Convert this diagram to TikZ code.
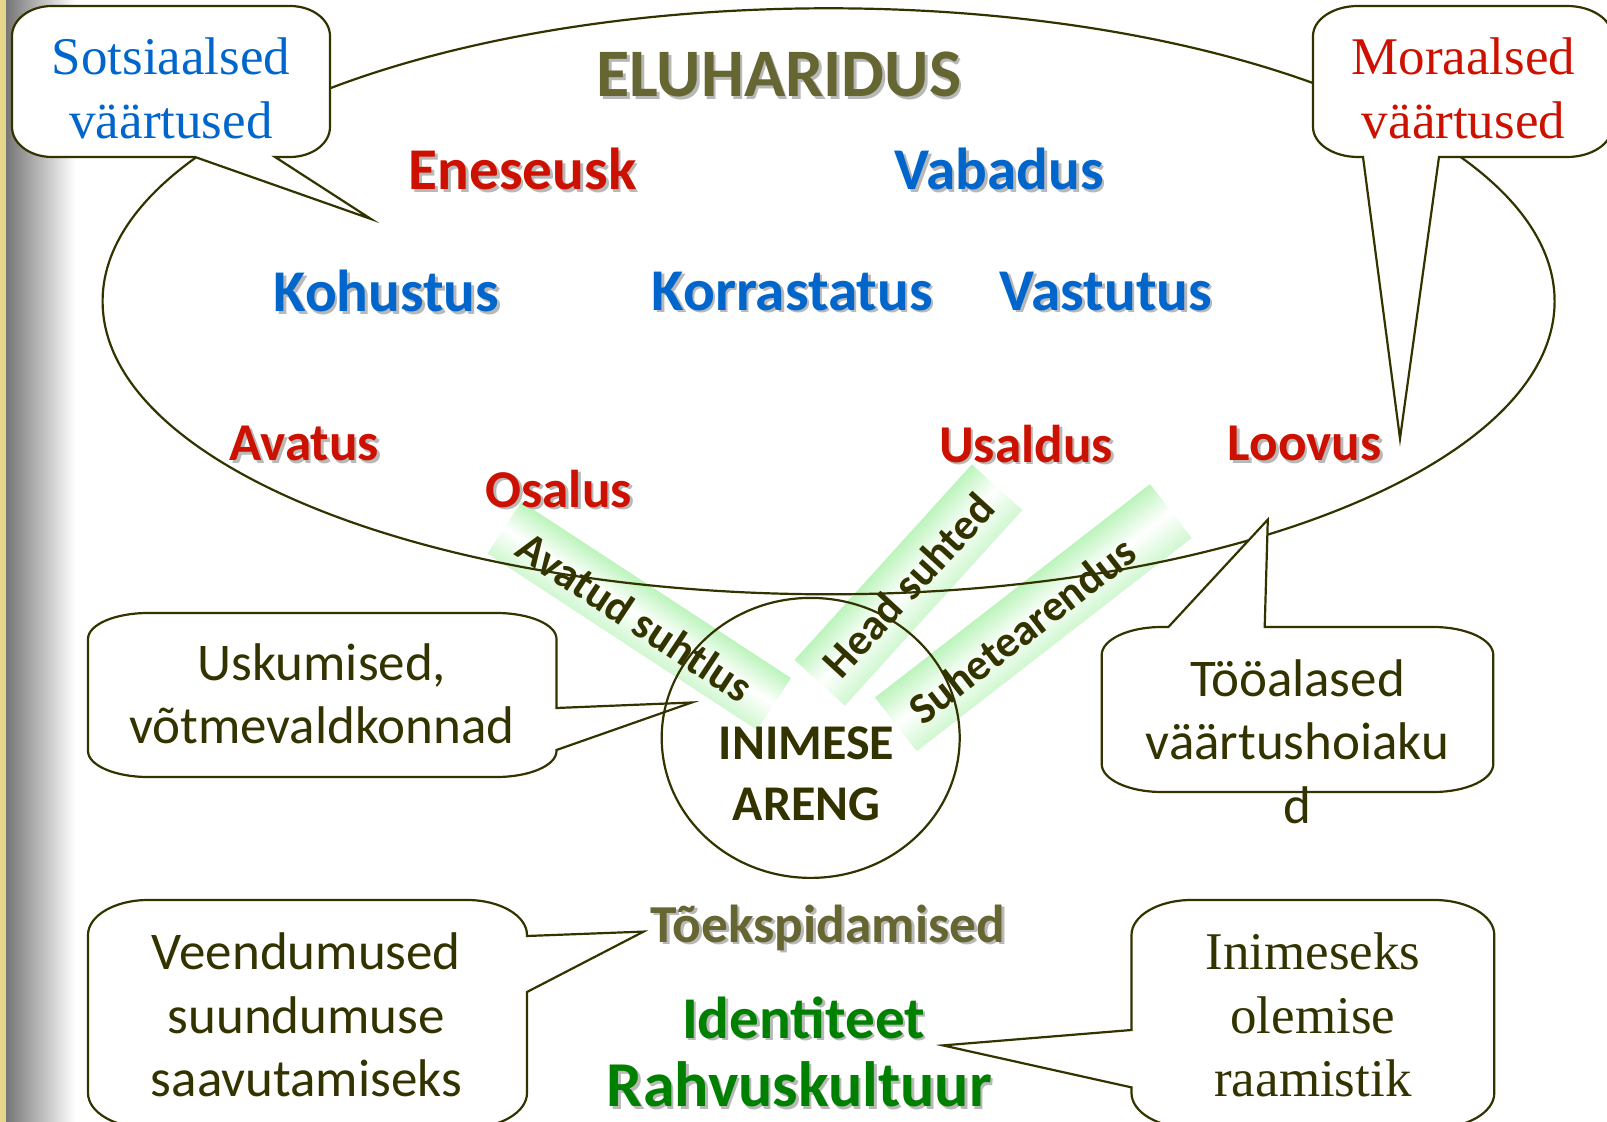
\documentclass[tikz,border=0pt]{standalone}
\usepackage{fontspec}
\setmainfont{Liberation Serif}
\newfontfamily\cali{Carlito}
\definecolor{olv}{RGB}{102,102,51}
\definecolor{redv}{RGB}{204,17,0}
\definecolor{bluev}{RGB}{0,102,204}
\definecolor{greenv}{RGB}{0,128,0}
\definecolor{dk}{RGB}{51,51,0}
\definecolor{bandg}{RGB}{188,244,188}
\definecolor{stripcol}{RGB}{230,214,140}
\definecolor{shgray}{RGB}{118,118,118}
\tikzset{
  line/.style={draw=dk, line width=1.1pt},
  callout/.style={draw=dk, line width=1.1pt, fill=white},
  val/.style={font=\cali\bfseries\fontsize{29.6}{34}\selectfont, inner sep=0pt},
  valsm/.style={font=\cali\bfseries\fontsize{26.6}{32}\selectfont, inner sep=0pt},
  ctext/.style={font=\fontsize{26.5}{31.75}\selectfont, align=center, inner sep=0pt},
  ctextc/.style={font=\cali\fontsize{26.5}{31.75}\selectfont, align=center, inner sep=0pt, text=dk},
  bandfill/.style={top color=bandg, bottom color=bandg!70, middle color=white},
  bandtext/.style={inner sep=0pt, font=\cali\bfseries\fontsize{22}{26}\selectfont, text=dk},
}
\newcommand\shlabel[4]{%
  \node[#3, text=black!28, xshift=1.3pt, yshift=-1.3pt] (#1sh) at #2 {#4};
  \node[#3] (#1) at #2 {#4};}
\begin{document}
\begin{tikzpicture}[x=0.5pt, y=-0.5pt]
\useasboundingbox (0,0) rectangle (1607,1122);
\clip (0,0) rectangle (1607,1122);
\fill[white] (0,0) rectangle (1607,1122);
% left strip
\fill[stripcol] (0,0) rectangle (6,1122);
\shade[left color=shgray, right color=white] (6,0) rectangle (75,1122);

% bands
\begin{scope}[transform canvas={rotate around={-33.2:(639.2,615.8)}}]
  \shade[bandfill] (478.2,584.8) rectangle (800.2,646.8);
\end{scope}
\begin{scope}[transform canvas={rotate around={47.8:(908.4,585)}}]
  \shade[bandfill] (776.4,551) rectangle (1040.4,619);
\end{scope}
\begin{scope}[transform canvas={rotate around={37.8:(1033.3,617.7)}}]
  \shade[bandfill] (859.3,583.7) rectangle (1207.3,651.7);
\end{scope}

% big ellipse
\draw[line] (828.6,301.3) ellipse [x radius=726, y radius=293];

% callouts
\draw[callout] (52,6) -- (290,6) arc[start angle=-90,end angle=0,x radius=40,y radius=30]
  -- (330,127) arc[start angle=0,end angle=90,x radius=40,y radius=30]
  -- (275,157) -- (371,219) -- (195,157)
  -- (52,157) arc[start angle=90,end angle=180,x radius=40,y radius=30]
  -- (12,36) arc[start angle=180,end angle=270,x radius=40,y radius=30] -- cycle;

\draw[callout] (1358,6) -- (1567,6) arc[start angle=-90,end angle=0,x radius=45,y radius=30]
  -- (1612,127) arc[start angle=0,end angle=90,x radius=45,y radius=30]
  -- (1439,157) -- (1400,438.6) -- (1363,157)
  -- (1358,157) arc[start angle=90,end angle=180,x radius=45,y radius=30]
  -- (1313,36) arc[start angle=180,end angle=270,x radius=45,y radius=30] -- cycle;

\draw[callout] (148,613) -- (496.5,613) arc[start angle=-90,end angle=0,x radius=60,y radius=26]
  -- (556.5,708) -- (691.8,702.5) -- (556.5,750)
  -- (556.5,751) arc[start angle=0,end angle=90,x radius=60,y radius=26]
  -- (148,777) arc[start angle=90,end angle=180,x radius=60,y radius=26]
  -- (88,639) arc[start angle=180,end angle=270,x radius=60,y radius=26] -- cycle;

\draw[callout] (1161.7,627) -- (1168.4,627) -- (1267.8,519.6) -- (1264.7,627)
  -- (1433.3,627) arc[start angle=-90,end angle=0,x radius=60,y radius=28]
  -- (1493.3,764) arc[start angle=0,end angle=90,x radius=60,y radius=28]
  -- (1161.7,792) arc[start angle=90,end angle=180,x radius=60,y radius=28]
  -- (1101.7,655) arc[start angle=180,end angle=270,x radius=60,y radius=28] -- cycle;

\draw[callout] (148,900) -- (467,900) arc[start angle=-90,end angle=0,x radius=60,y radius=35]
  -- (527,936) -- (643.6,931.6) -- (527,992)
  -- (527,1093) arc[start angle=0,end angle=90,x radius=60,y radius=35]
  -- (148,1128) arc[start angle=90,end angle=180,x radius=60,y radius=35]
  -- (88,935) arc[start angle=180,end angle=270,x radius=60,y radius=35] -- cycle;

\draw[callout] (1191.5,900) -- (1434.3,900) arc[start angle=-90,end angle=0,x radius=60,y radius=35]
  -- (1494.3,1093) arc[start angle=0,end angle=90,x radius=60,y radius=35]
  -- (1191.5,1128) arc[start angle=90,end angle=180,x radius=60,y radius=35]
  -- (1131.5,1087.4) -- (942.9,1045.4) -- (1131.5,1030)
  -- (1131.5,935) arc[start angle=180,end angle=270,x radius=60,y radius=35] -- cycle;

% circle
\draw[line] (810.7,737.9) ellipse [x radius=149, y radius=140];

% band texts
\node[bandtext, rotate=-33.5] (b1) at (635,617) {Avatud suhtlus};
\node[bandtext, rotate=47.5] (b2) at (908,585) {Head suhted};
\node[bandtext, rotate=37.8] (b3) at (1022,630) {Suhetearendus};

% callout texts
\node[ctext, text=bluev] (t1) at (171,88.2) {Sotsiaalsed\\väärtused};
\node[ctext, text=redv] (t2) at (1463.5,88.2) {Moraalsed\\väärtused};
\node[ctextc] (t3) at (321.8,693.8) {Uskumised,\\võtmevaldkonnad};
\node[ctextc] (t4) at (1297.5,741.5) {Tööalased\\väärtushoiaku\\d};
\node[ctextc] (t5) at (306.4,1015) {Veendumused\\suundumuse\\saavutamiseks};
\node[ctext, text=dk] (t6) at (1312.9,1015) {Inimeseks\\olemise\\raamistik};

% labels
\shlabel{title}{(778.9,74.8)}{val, text=olv, font=\cali\bfseries\fontsize{34}{40}\selectfont}{ELUHARIDUS}
\shlabel{eneseusk}{(522.7,169.1)}{val, text=redv}{Eneseusk}
\shlabel{vabadus}{(999.2,169.1)}{val, text=bluev}{Vabadus}
\shlabel{kohustus}{(386.4,291.1)}{val, text=bluev}{Kohustus}
\shlabel{korrastatus}{(792.2,291.1)}{val, text=bluev}{Korrastatus}
\shlabel{vastutus}{(1105.8,291.1)}{val, text=bluev}{Vastutus}
\shlabel{avatus}{(304.4,443.8)}{valsm, text=redv}{Avatus}
\shlabel{osalus}{(558.6,488.9)}{valsm, text=redv}{Osalus}
\shlabel{usaldus}{(1025.9,443.8)}{valsm, text=redv}{Usaldus}
\shlabel{loovus}{(1304.7,443.8)}{valsm, text=redv}{Loovus}
\shlabel{toek}{(828,927.5)}{val, text=olv, font=\cali\bfseries\fontsize{26.7}{32}\selectfont}{Tõekspidamised}
\shlabel{ident}{(803.5,1017.7)}{val, text=greenv}{Identiteet}
\shlabel{rahvus}{(799.4,1084.3)}{val, text=greenv, font=\cali\bfseries\fontsize{32}{36}\selectfont}{Rahvuskultuur}

\node[inner sep=0pt, align=center, text=dk, font=\cali\bfseries\fontsize{25}{30.75}\selectfont] (inimese) at (806.6,773.8) {INIMESE\\ARENG};
\end{tikzpicture}
\end{document}
